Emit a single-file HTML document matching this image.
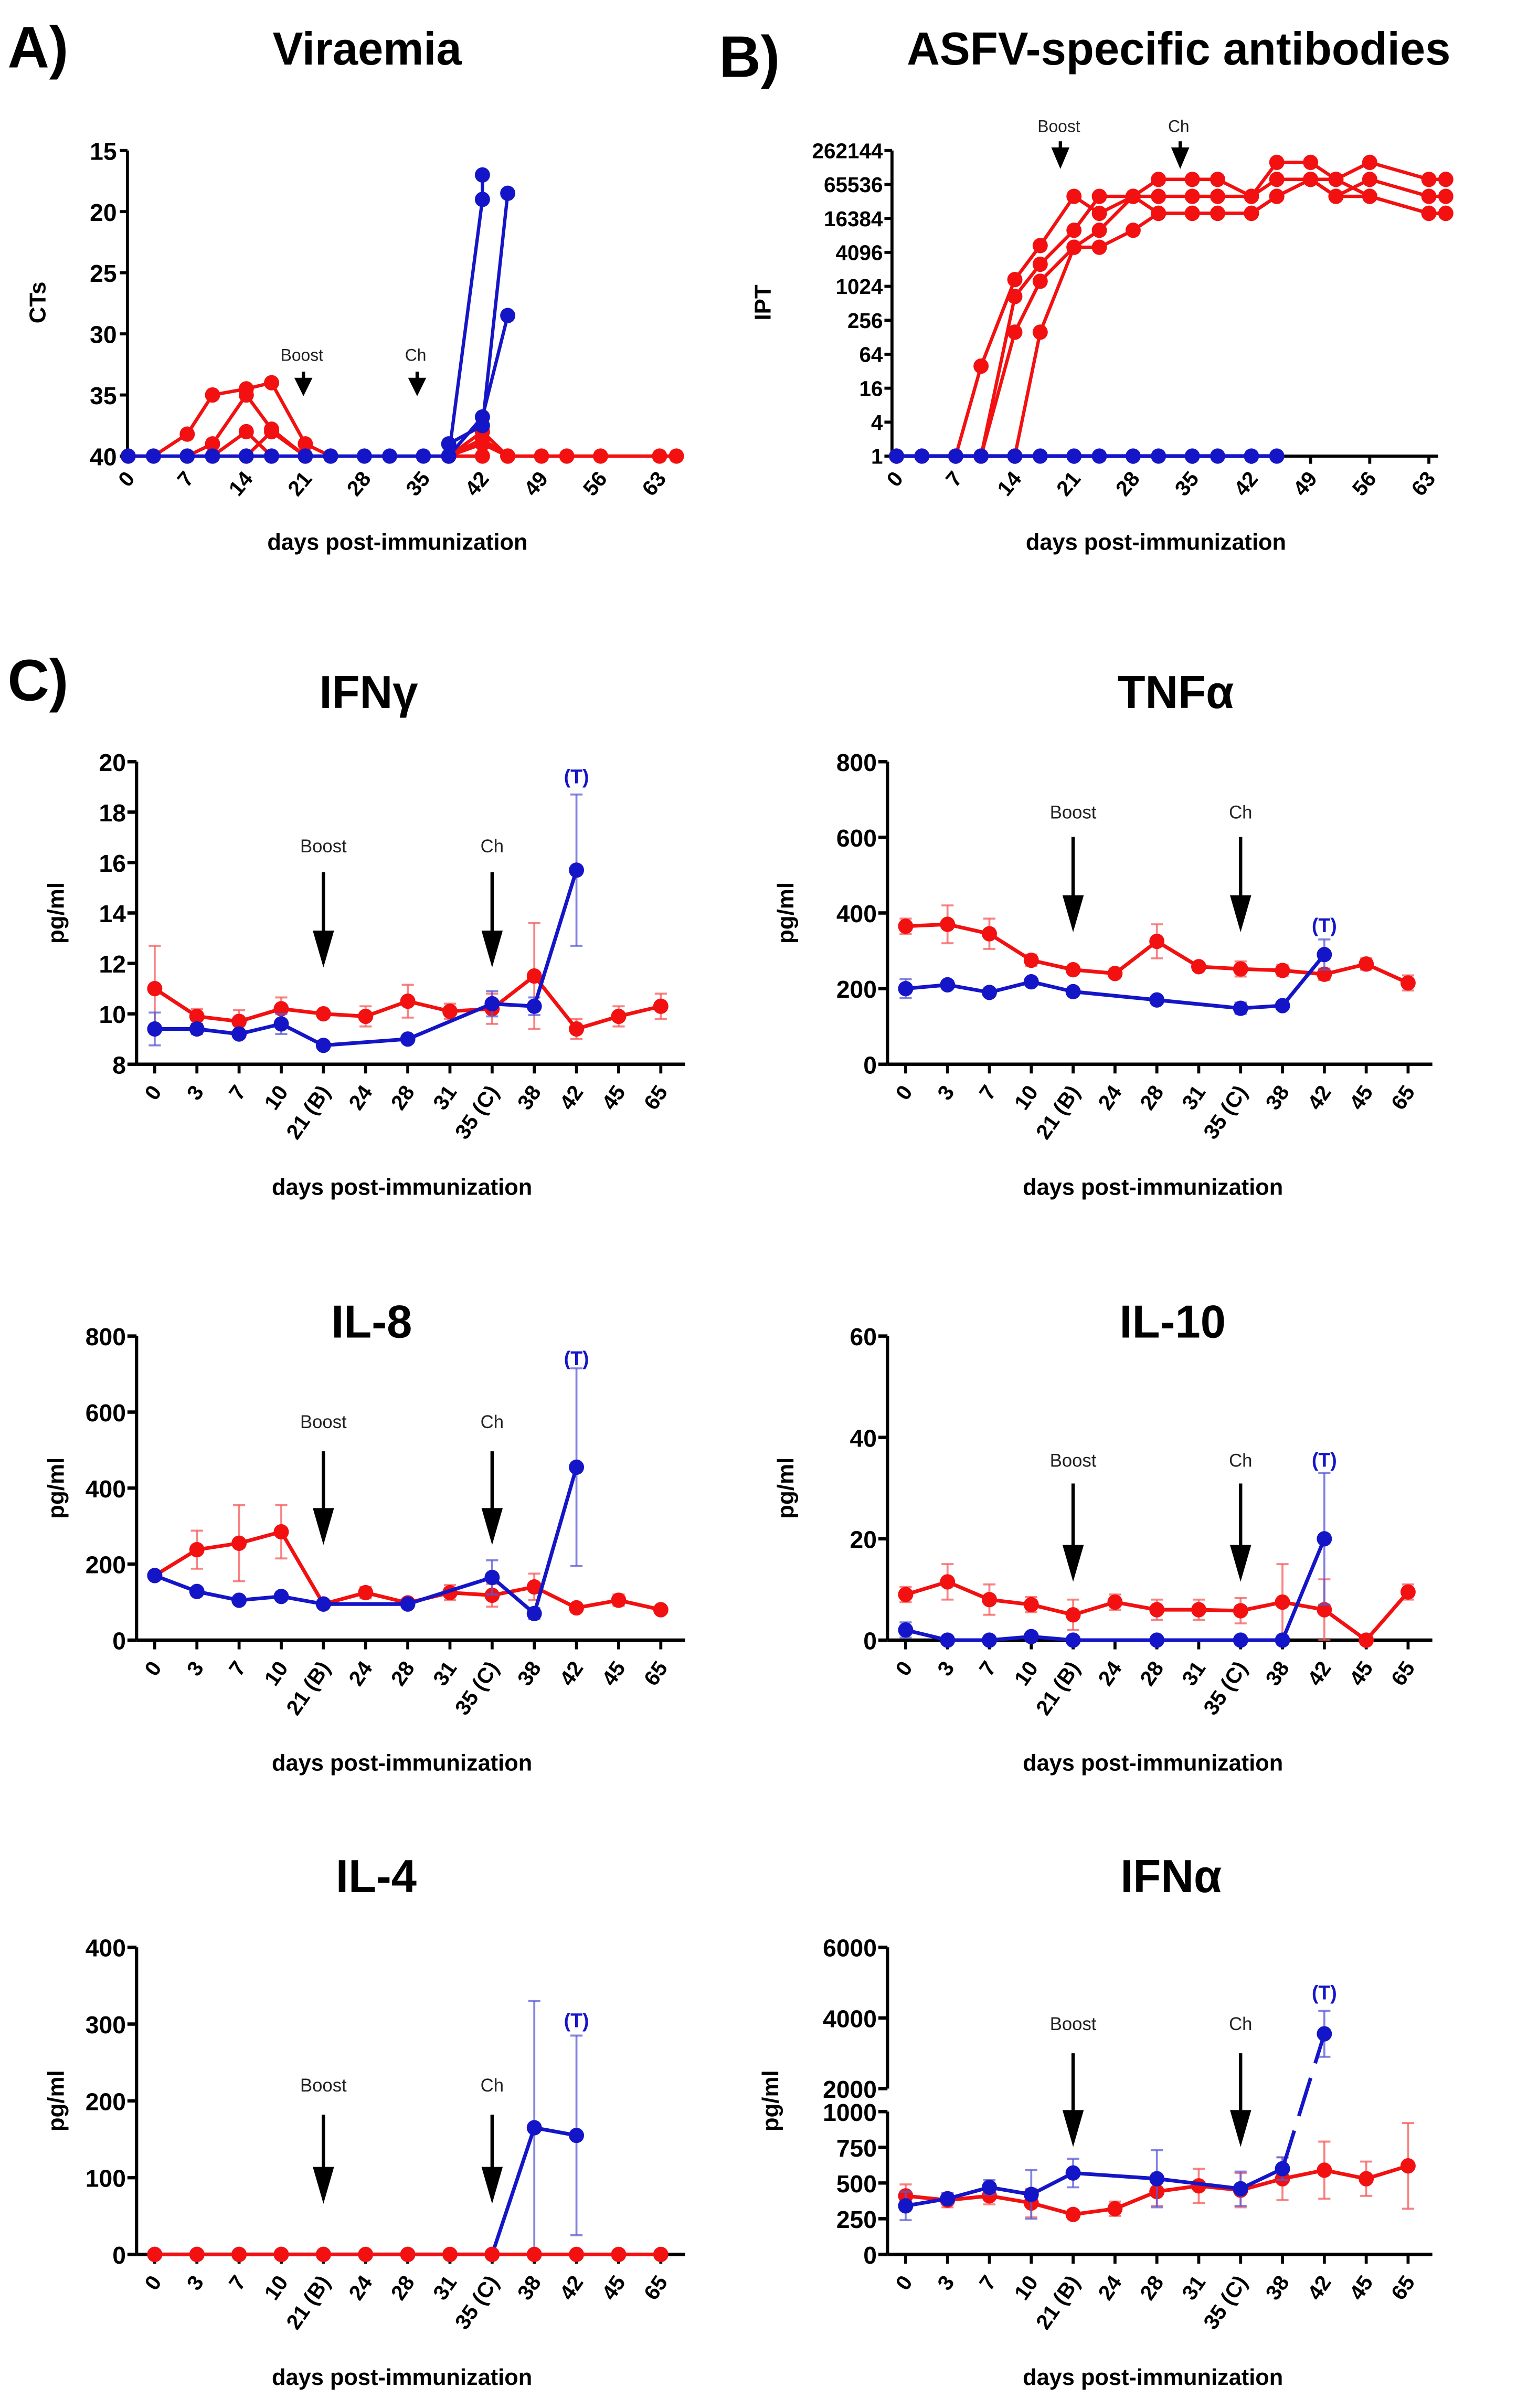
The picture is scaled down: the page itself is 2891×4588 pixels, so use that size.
<!DOCTYPE html>
<html><head><meta charset="utf-8">
<style>
html,body{margin:0;padding:0;background:#fff;}
svg{display:block;font-family:"Liberation Sans",Arial,sans-serif;}
</style></head>
<body>
<svg id="fig" width="2891" height="4588" viewBox="0 0 1000 1568" preserveAspectRatio="none" xmlns="http://www.w3.org/2000/svg"></svg>
<script>
// ---------- Panel A: viraemia (CT values) ----------
const viraDaysTicks = [0,7,14,21,28,35,42,49,56,63];
const viraYTicks = [15,20,25,30,35,40];
const viraRedLines = [
  [[0,40],[3,40],[7,38.2],[10,35],[14,34.5],[17,34],[21,39],[24,40]],
  [[7,40],[10,39],[14,35],[17,37.8],[21,40]],
  [[10,40],[14,38],[17,40]],
  [[14,40],[17,38],[21,40]],
  [[38,40],[42,38],[45,40]],
  [[38,40],[42,39],[45,40]],
  [[38,40],[42,38.6],[45,40],[49,40],[52,40],[56,40],[63,40],[65,40]],
  [[38,40],[42,40]]
];
const viraBlueLines = [
  [[0,40],[3,40],[7,40],[10,40],[14,40],[17,40],[21,40],[24,40],[28,40],[31,40],[35,40],[38,40],[42,19],[42,17]],
  [[38,39],[42,37.5],[45,18.5]],
  [[38,40],[42,36.8],[45,28.5]]
];
// ---------- Panel B: antibodies (log2 titre) ----------
const abYTickLabels = ["1","4","16","64","256","1024","4096","16384","65536","262144"];
const abRedLines = [
  [[0,0],[3,0],[7,0],[10,5.3],[14,10.4],[17,12.4],[21,15.3],[24,14.3],[28,15.3],[31,16.3],[35,16.3],[38,16.3],[42,15.3],[45,17.3],[49,17.3],[52,16.3],[56,17.3],[63,16.3],[65,16.3]],
  [[10,0],[14,9.4],[17,11.3],[21,13.3],[24,15.3],[28,15.3],[31,15.3],[35,15.3],[38,15.3],[42,15.3],[45,16.3],[49,16.3],[52,15.3],[56,16.3],[63,15.3],[65,15.3]],
  [[10,0],[14,7.3],[17,10.3],[21,12.3],[24,13.3],[28,15.3],[31,14.3],[35,14.3],[38,14.3],[42,14.3],[45,15.3],[49,16.3],[52,16.3],[56,15.3],[63,14.3],[65,14.3]],
  [[14,0],[17,7.3],[21,12.3],[24,12.3],[28,13.3],[31,14.3],[35,14.3],[38,14.3],[42,14.3],[45,15.3],[49,16.3],[52,15.3],[56,15.3],[63,14.3],[65,14.3]]
];
const abBlueDays = [0,3,7,10,14,17,21,24,28,31,35,38,42,45];
const abBlueVals = [0,0,0,0,0,0,0,0,0,0,0,0,0,0];
// ---------- Panel C: cytokines ----------
const cytoCats = ["0","3","7","10","21 (B)","24","28","31","35 (C)","38","42","45","65"];
const ifngRed = [11,9.9,9.7,10.2,10,9.9,10.5,10.1,10.2,11.5,9.4,9.9,10.3];
const ifngRedErr = [1.7,0.3,0.45,0.45,0,0.4,0.65,0.3,0.6,2.1,0.4,0.4,0.5];
const ifngBlue = [9.4,9.4,9.2,9.6,8.75,null,9.0,null,10.4,10.3,15.7,null,null];
const ifngBlueErr = [0.65,0.2,0.15,0.4,0,0,0,0,0.5,0.35,3.0,0,0];
const tnfRed = [365,370,345,275,250,240,325,258,252,248,238,265,215];
const tnfRedErr = [20,50,40,15,10,10,45,10,20,15,15,15,20];
const tnfBlue = [200,210,190,218,192,null,170,null,148,155,290,null,null];
const tnfBlueErr = [25,10,5,10,5,0,5,0,15,10,40,0,0];
const il8Red = [170,238,255,285,95,125,98,125,118,140,85,105,80];
const il8RedErr = [10,50,100,70,10,15,10,20,30,35,10,15,8];
const il8Blue = [170,128,105,115,95,null,95,null,165,70,455,null,null];
const il8BlueErr = [10,10,5,10,5,0,5,0,45,15,260,0,0];
const il10Red = [9,11.5,8,7,5,7.5,6,6,5.8,7.5,6,0,9.5];
const il10RedErr = [1.5,3.5,3,1.5,3,1.5,2,2,2.5,7.5,6,0,1.5];
const il10Blue = [2,0,0,0.7,0,null,0,null,0,0,20,null,null];
const il10BlueErr = [1.5,0,0,0.5,0,0,0,0,0,0,13,0,0];
const il4Red = [0,0,0,0,0,0,0,0,0,0,0,0,0];
const il4RedErr = [0,0,0,0,0,0,0,0,0,0,0,0,0];
const il4Blue = [0,0,0,0,0,null,0,null,0,165,155,null,null];
const il4BlueErr = [0,0,0,0,0,0,0,0,0,165,130,0,0];
const ifnaRed = [410,380,410,360,280,320,440,480,450,530,590,530,620];
const ifnaRedErr = [80,50,60,100,30,50,100,120,120,150,200,120,300];
const ifnaBlue = [340,390,470,420,570,null,530,null,460,600,3550,null,null];
const ifnaBlueErr = [100,40,50,170,100,0,200,0,120,80,650,0,0];
const ifngTicks = [8,10,12,14,16,18,20];
const tnfTicks = [0,200,400,600,800];
const il8Ticks = [0,200,400,600,800];
const il10Ticks = [0,20,40,60];
const il4Ticks = [0,100,200,300,400];
const ifnaLowTicks = [0,250,500,750,1000];
const ifnaHighTicks = [2000,4000,6000];

const NS = "http://www.w3.org/2000/svg";
const svg = document.getElementById('fig');
const RED = "#f21010", BLUE = "#1515c8", REDE = "rgba(245,90,90,0.75)", BLUEE = "rgba(90,90,215,0.75)";
function mk(tag, attrs, parent, text){
  const e = document.createElementNS(NS, tag);
  for (const k in attrs) e.setAttribute(k, attrs[k]);
  if (text !== undefined) e.textContent = text;
  (parent || svg).appendChild(e);
  return e;
}
function group(name){
  const g = mk('g', {});
  
  
  return g;
}
function txt(g, x, y, s, size, opts){
  opts = opts || {};
  const t = mk('text', {x:x, y:y, 'font-size':size, 'font-weight':opts.w||'bold', fill:opts.fill||'#000', 'text-anchor':opts.a||'middle'}, g, s);
  if (opts.rot) t.setAttribute('transform', 'rotate('+opts.rot+' '+x+' '+y+')');
  return t;
}
function arrowDown(g, x, y1, y2, hw, hh, name){
  const a = mk('g', {}, g);
  
  
  mk('line', {x1:x, y1:y1, x2:x, y2:y2-hh+2, stroke:'#000', 'stroke-width':2.2}, a);
  mk('polygon', {points:(x-hw)+','+(y2-hh)+' '+(x+hw)+','+(y2-hh)+' '+x+','+y2, fill:'#000'}, a);
}
function marker(g, x, y, color, r){
  const c = mk('circle', {cx:x, cy:y, r:r||5, fill:color}, g);
  
  
}
function polyline(g, pts, color, w){
  mk('polyline', {points:pts.map(p=>p[0]+','+p[1]).join(' '), fill:'none', stroke:color, 'stroke-width':w||2.2, 'stroke-linejoin':'round'}, g);
}

// ---------- Titles ----------
const tg = group('panel-labels');
txt(tg, 5, 44, 'A)', 38, {a:'start'});
txt(tg, 242, 42, 'Viraemia', 30);
txt(tg, 474, 50, 'B)', 38, {a:'start'});
txt(tg, 777, 42, 'ASFV-specific antibodies', 30);
txt(tg, 5, 456, 'C)', 38, {a:'start'});

// ---------- Panel A ----------
(function(){
  const g = group('viraemia-chart');
  const xA = d => 84.5 + 5.56*d;
  const yA = v => 98 + (v-15)*(297-98)/25;
  const ax = 84;
  mk('line', {x1:ax, y1:98, x2:ax, y2:297, stroke:'#000', 'stroke-width':2}, g);
  viraYTicks.forEach(v => {
    mk('line', {x1:ax-5, y1:yA(v), x2:ax, y2:yA(v), stroke:'#000', 'stroke-width':2}, g);
    txt(g, ax-7, yA(v)+6, String(v), 16, {a:'end'});
  });
  viraDaysTicks.forEach(d => txt(g, xA(d)+5, 312, String(d), 14, {a:'end', rot:-50}));
  txt(g, 30, 197, 'CTs', 15, {rot:-90});
  txt(g, 262, 358, 'days post-immunization', 15);
  viraRedLines.forEach(l => { polyline(g, l.map(p=>[xA(p[0]), yA(p[1])]), RED); l.forEach(p=>marker(g, xA(p[0]), yA(p[1]), RED, 5)); });
  viraBlueLines.forEach(l => { polyline(g, l.map(p=>[xA(p[0]), yA(p[1])]), BLUE); l.forEach(p=>marker(g, xA(p[0]), yA(p[1]), BLUE, 5)); });
  txt(g, 199, 235, 'Boost', 11, {w:'normal', fill:'#222'});
  arrowDown(g, 200, 242, 258, 6, 12, 'boost-arrow');
  txt(g, 274, 235, 'Ch', 11, {w:'normal', fill:'#222'});
  arrowDown(g, 275, 242, 258, 6, 12, 'challenge-arrow');
})();

// ---------- Panel B ----------
(function(){
  const g = group('antibodies-chart');
  const xB = d => 591 + 5.57*d;
  const yB = l2 => 297 - l2*(297-98)/18;
  const ax = 588;
  mk('line', {x1:ax, y1:98, x2:ax, y2:297, stroke:'#000', 'stroke-width':2}, g);
  mk('line', {x1:ax, y1:297, x2:948, y2:297, stroke:'#000', 'stroke-width':2}, g);
  abYTickLabels.forEach((s,i) => {
    const y = yB(i*2);
    mk('line', {x1:ax-5, y1:y, x2:ax, y2:y, stroke:'#000', 'stroke-width':2}, g);
    txt(g, ax-6, y+5, s, 14, {a:'end'});
  });
  viraDaysTicks.forEach(d => {
    mk('line', {x1:xB(d), y1:297, x2:xB(d), y2:302, stroke:'#000', 'stroke-width':2}, g);
    txt(g, xB(d)+5, 312, String(d), 14, {a:'end', rot:-50});
  });
  txt(g, 508, 197, 'IPT', 15, {rot:-90});
  txt(g, 762, 358, 'days post-immunization', 15);
  abRedLines.forEach(l => { polyline(g, l.map(p=>[xB(p[0]), yB(p[1])]), RED); l.forEach(p=>marker(g, xB(p[0]), yB(p[1]), RED, 5)); });
  polyline(g, abBlueDays.map((d,i)=>[xB(d), yB(abBlueVals[i])]), BLUE, 2.5);
  abBlueDays.forEach((d,i)=>marker(g, xB(d), yB(abBlueVals[i]), BLUE, 5));
  txt(g, 698, 86, 'Boost', 11, {w:'normal', fill:'#222'});
  arrowDown(g, 699, 92, 110, 6, 14, 'boost-arrow');
  txt(g, 777, 86, 'Ch', 11, {w:'normal', fill:'#222'});
  arrowDown(g, 778, 92, 110, 6, 14, 'challenge-arrow');
})();

// ---------- cytokine panels ----------
function cytoPanel(c){
  const g = group(c.name);
  const xC = i => c.x0 + c.step*i;
  const yC = c.yfn || (v => c.yBot - (v-c.yMin)*(c.yBot-c.yTop)/(c.yMax-c.yMin));
  const ax = c.ax;
  const xEnd = xC(12) + 16;
  if (c.segments) {
    c.segments.forEach(s => mk('line', {x1:ax, y1:s[0], x2:ax, y2:s[1], stroke:'#000', 'stroke-width':2.2}, g));
  } else {
    mk('line', {x1:ax, y1:c.yTop, x2:ax, y2:c.yBot, stroke:'#000', 'stroke-width':2.2}, g);
  }
  mk('line', {x1:ax, y1:c.yBot, x2:xEnd, y2:c.yBot, stroke:'#000', 'stroke-width':2.2}, g);
  c.ticks.forEach(v => {
    mk('line', {x1:ax-6, y1:yC(v), x2:ax, y2:yC(v), stroke:'#000', 'stroke-width':2.2}, g);
    txt(g, ax-7, yC(v)+6, String(v), 16, {a:'end'});
  });
  cytoCats.forEach((s,i) => {
    mk('line', {x1:xC(i), y1:c.yBot, x2:xC(i), y2:c.yBot+6, stroke:'#000', 'stroke-width':2}, g);
    txt(g, xC(i)+5, c.yBot+18, s, 14, {a:'end', rot:-55});
  });
  txt(g, c.ax-c.labOff, (c.yTop+c.yBot)/2, 'pg/ml', 15, {rot:-90});
  txt(g, c.ax+175, c.yBot+85, 'days post-immunization', 15);
  txt(g, c.titleX, c.titleY, c.title, 30);
  // arrows
  txt(g, xC(4), c.arrowTextY, 'Boost', 12, {w:'normal', fill:'#222'});
  arrowDown(g, xC(4), c.arrowY1, c.arrowY2, 7, 24, 'boost-arrow');
  txt(g, xC(8), c.arrowTextY, 'Ch', 12, {w:'normal', fill:'#222'});
  arrowDown(g, xC(8), c.arrowY1, c.arrowY2, 7, 24, 'challenge-arrow');
  // series
  function series(vals, errs, color, ecolor, sname){
    const sg = mk('g', {}, g);
    
    
    vals.forEach((v,i) => {
      if (v === null || !errs[i]) return;
      const x = xC(i), y1 = yC(v+errs[i]), y2 = yC(Math.max(c.yMin, v-errs[i]));
      mk('line', {x1:x, y1:y1, x2:x, y2:y2, stroke:ecolor, 'stroke-width':1.3}, sg);
      mk('line', {x1:x-4, y1:y1, x2:x+4, y2:y1, stroke:ecolor, 'stroke-width':1.3}, sg);
      mk('line', {x1:x-4, y1:y2, x2:x+4, y2:y2, stroke:ecolor, 'stroke-width':1.3}, sg);
    });
    const pts = [];
    vals.forEach((v,i) => { if (v !== null) pts.push([xC(i), yC(v), i]); });
    if (c.dashFrom !== undefined && sname === 'infected-series') {
      const a = pts.filter(p=>p[2] <= c.dashFrom), b = pts.filter(p=>p[2] >= c.dashFrom);
      polyline(sg, a, color, 2.4);
      mk('line', {x1:b[0][0], y1:b[0][1], x2:b[1][0], y2:b[1][1], stroke:color, 'stroke-width':2.4, 'stroke-dasharray':'26,10'}, sg);
    } else {
      polyline(sg, pts, color, 2.4);
    }
    pts.forEach(p => marker(sg, p[0], p[1], color, 5));
  }
  if (c.redOnTop) {
    series(c.blue, c.blueErr, BLUE, BLUEE, 'infected-series');
    series(c.red, c.redErr, RED, REDE, 'vaccinated-series');
  } else {
    series(c.red, c.redErr, RED, REDE, 'vaccinated-series');
    series(c.blue, c.blueErr, BLUE, BLUEE, 'infected-series');
  }
  txt(g, xC(10), c.tY, '(T)', 13, {fill:BLUE});
}

const L = {ax:90, x0:102, step:27.8, labOff:48};
const R = {ax:585, x0:597, step:27.6, labOff:62};
cytoPanel(Object.assign({}, L, {name:'ifn-gamma-chart', title:'IFNγ', titleX:243, titleY:461, yTop:496, yBot:693, yMin:8, yMax:20, ticks:ifngTicks,
  red:ifngRed, redErr:ifngRedErr, blue:ifngBlue, blueErr:ifngBlueErr, arrowTextY:555, arrowY1:568, arrowY2:630, tY:510}));
cytoPanel(Object.assign({}, R, {name:'tnf-alpha-chart', title:'TNFα', titleX:775, titleY:461, yTop:496, yBot:693, yMin:0, yMax:800, ticks:tnfTicks,
  red:tnfRed, redErr:tnfRedErr, blue:tnfBlue, blueErr:tnfBlueErr, arrowTextY:533, arrowY1:545, arrowY2:607, tY:607}));
cytoPanel(Object.assign({}, L, {name:'il-8-chart', title:'IL-8', titleX:245, titleY:871, yTop:870, yBot:1068, yMin:0, yMax:800, ticks:il8Ticks,
  red:il8Red, redErr:il8RedErr, blue:il8Blue, blueErr:il8BlueErr, arrowTextY:930, arrowY1:945, arrowY2:1006, tY:889}));
cytoPanel(Object.assign({}, R, {name:'il-10-chart', title:'IL-10', titleX:773, titleY:871, yTop:870, yBot:1068, yMin:0, yMax:60, ticks:il10Ticks,
  red:il10Red, redErr:il10RedErr, blue:il10Blue, blueErr:il10BlueErr, arrowTextY:955, arrowY1:966, arrowY2:1030, tY:955}));
cytoPanel(Object.assign({}, L, {name:'il-4-chart', title:'IL-4', titleX:248, titleY:1232, yTop:1268, yBot:1468, yMin:0, yMax:400, ticks:il4Ticks, redOnTop:true,
  red:il4Red, redErr:il4RedErr, blue:il4Blue, blueErr:il4BlueErr, arrowTextY:1362, arrowY1:1377, arrowY2:1435, tY:1320}));
const ifnaY = v => v <= 1000 ? 1468 - v*(1468-1375)/1000 : 1360 - (v-2000)*(1360-1268)/4000;
cytoPanel(Object.assign({}, R, {name:'ifn-alpha-chart', title:'IFNα', titleX:772, titleY:1232, yTop:1268, yBot:1468, yMin:0, yMax:6000, yfn:ifnaY, labOff:72,
  segments:[[1268,1360],[1375,1468]], ticks:ifnaLowTicks.concat(ifnaHighTicks),
  red:ifnaRed, redErr:ifnaRedErr, blue:ifnaBlue, blueErr:ifnaBlueErr, arrowTextY:1322, arrowY1:1337, arrowY2:1398, tY:1302, dashFrom:9}));
</script>
</body></html>
